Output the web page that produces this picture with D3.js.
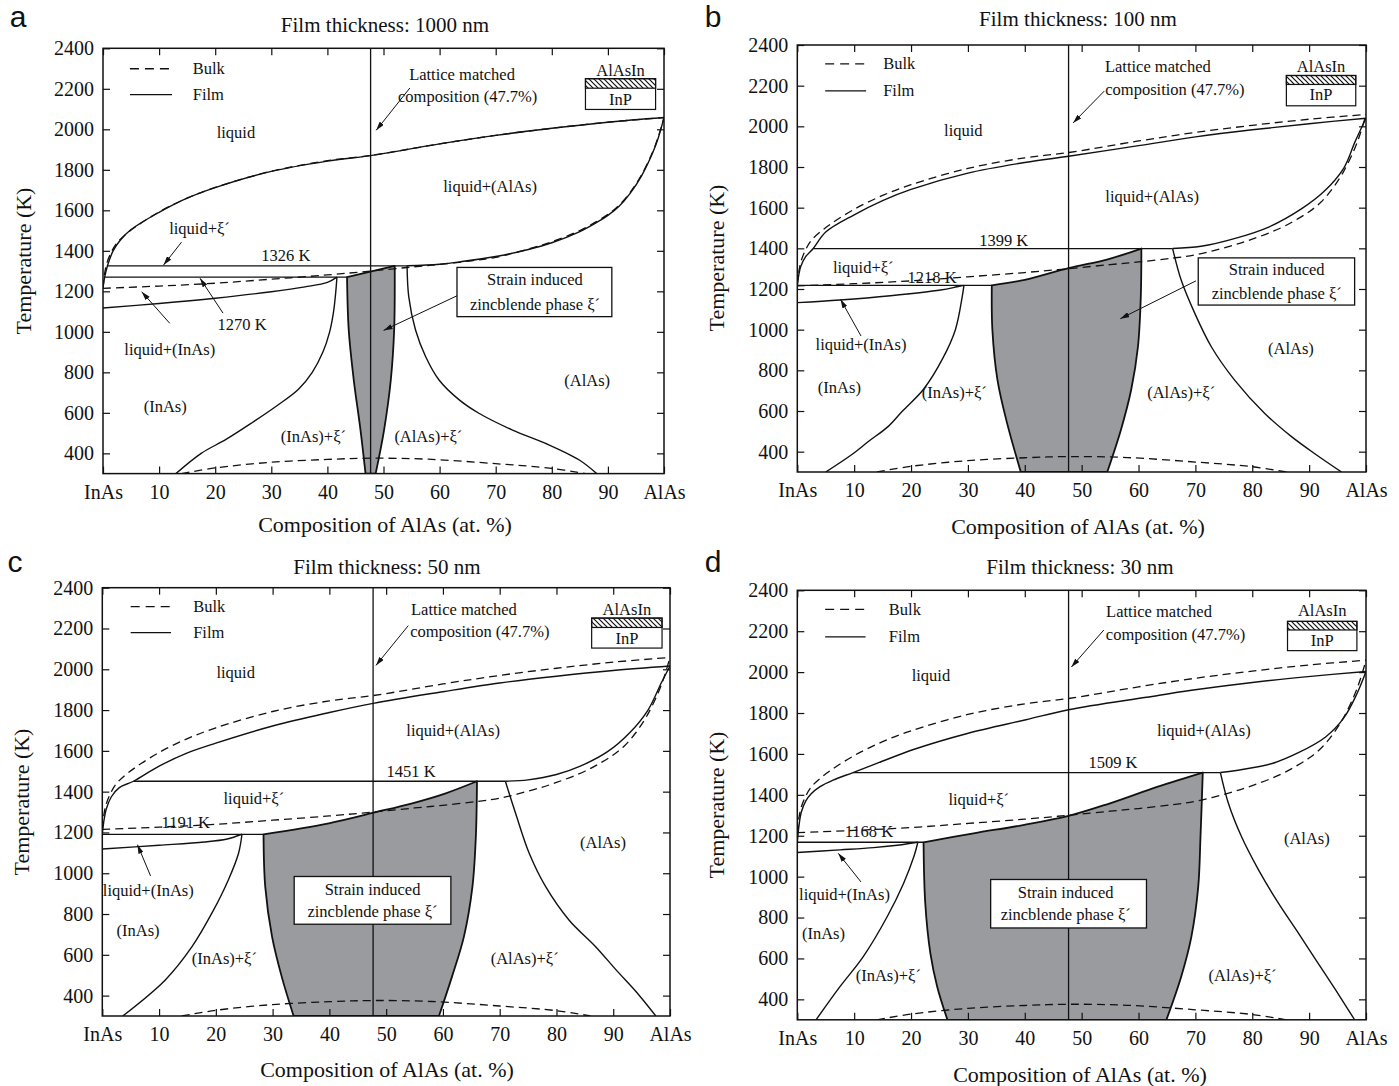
<!DOCTYPE html>
<html><head><meta charset="utf-8">
<script src="https://cdn.jsdelivr.net/npm/d3@7"></script>
<style>
body{margin:0;background:#fff;}
svg text{font-family:"Liberation Serif","Times New Roman",serif;fill:#111;}
</style></head><body><svg id="chart" width="1399" height="1086"></svg>
<script>
// ---------------- DATA ----------------
const panelLetters = ["a", "b", "c", "d"];
const panelTitles = ["Film thickness: 1000 nm", "Film thickness: 100 nm", "Film thickness: 50 nm", "Film thickness: 30 nm"];
const xTickValues = [0, 10, 20, 30, 40, 50, 60, 70, 80, 90, 100];
const xTickLabels = ["InAs", "10", "20", "30", "40", "50", "60", "70", "80", "90", "AlAs"];
const yTickValues = [400, 600, 800, 1000, 1200, 1400, 1600, 1800, 2000, 2200, 2400];
const yTickLabels = ["400", "600", "800", "1000", "1200", "1400", "1600", "1800", "2000", "2200", "2400"];
const latticeMatched = 47.7;
const peritecticT = [1326, 1399, 1451, 1509];
const peritecticSpan = [[0.8, 54.2], [2.8, 66], [5.5, 71], [9.8, 74.4]];
const eutecticT = [1270, 1218, 1191, 1168];
const eutecticSpan = [[0.3, 43.5], [0, 34.2], [0, 28.4], [0, 22.2]];

// bulk (dashed) curves, [AlAs %, T (K)]
const bulkLiquidus = [[0,1215],[0.3,1290],[0.7,1340],[1.5,1395],[2.5,1440],[4,1480],[6,1522],[10,1592],[15,1660],[20,1713],[30,1793],[40,1845],[47.7,1871],[60,1928],[70,1970],[80,2005],[90,2035],[100,2058]];
const bulkSolidus = [[0,1215],[10,1226],[20,1240],[30,1260],[40,1281],[47.7,1300],[55,1320],[60,1333],[66,1352],[70,1368],[76,1410],[80,1445],[85,1500],[88,1545],[90,1580],[92,1625],[94,1690],[96,1775],[98,1890],[99,1965],[100,2058]];
const bulkGap = [[14,300],[20,328],[30,356],[40,370],[48,376],[58,371],[70,349],[80,326],[86,300]];

// film 1000 nm
const filmLiquidusA = [[0,1215],[0.3,1270],[0.8,1326],[1.8,1400],[3,1450],[5,1505],[10,1590],[15,1660],[20,1712],[30,1792],[40,1843],[47.7,1870],[60,1928],[70,1970],[80,2005],[90,2035],[100,2058]];
const filmSolidusAlAsA = [[54.2,1326],[60,1334],[64,1347],[70,1372],[76,1408],[80,1440],[85,1495],[88,1540],[90,1575],[92,1620],[94,1685],[96,1770],[98,1885],[99,1960],[100,2058]];
const filmSolidusInAsA = [[0,1118],[10,1140],[20,1166],[30,1198],[36,1222],[40,1244],[41.7,1270]];
const solvusInAsA = [[41.7,1270],[41.5,1200],[41.1,1100],[40.4,1000],[39.2,900],[37.3,800],[34.8,715],[31,635],[26.5,550],[22,470],[17.5,400],[13,300]];
const solvusAlAsA = [[54.2,1326],[54.5,1174],[55.7,1010],[57.5,878],[59.9,762],[63.5,664],[67,598],[73,515],[78.9,449],[84.9,367],[88,300]];
const zbTopA = [[43.5,1270],[52,1326]];
const zbLeftA = [[43.5,1270],[43.8,1010],[44.7,762],[45.9,515],[46.8,300]];
const zbRightA = [[52,1326],[51.9,1010],[51.3,762],[50.1,515],[48.6,300]];

// film 100 nm
const filmLiquidusB = [[0,1218],[0.2,1260],[0.6,1310],[1.5,1360],[2.8,1399],[5,1480],[10,1565],[15,1635],[20,1690],[30,1770],[40,1822],[47.7,1853],[60,1905],[70,1948],[80,1983],[90,2013],[100,2040]];
const filmSolidusAlAsB = [[66,1399],[71,1410],[77,1449],[83,1506],[88.7,1595],[92.6,1679],[96.1,1795],[98.1,1926],[100,2040]];
const filmSolidusInAsB = [[0,1133],[7.5,1146],[16.4,1167],[25.2,1195],[28.1,1211],[29.3,1218]];
const solvusInAsB = [[29.3,1218],[29,1162],[27.8,1000],[25.6,860],[22.2,707],[18.5,600],[15.9,522],[12.5,450],[9.6,386],[5,300]];
const solvusAlAsB = [[66,1399],[67.5,1244],[69.9,1080],[72.8,916],[76.9,752],[82.2,588],[86.9,474],[91,390],[95.7,300]];
const zbTopB = [[34.2,1218],[40,1245],[47.7,1303],[54.6,1346],[60.5,1399]];
const zbLeftB = [[34.2,1218],[34.3,1000],[35.2,752],[36.9,539],[39.3,300]];
const zbRightB = [[60.5,1399],[60.4,1162],[59.9,916],[58.7,703],[56.9,507],[54.5,300]];

// film 50 nm
const filmLiquidusC = [[0,1191],[0.3,1260],[0.7,1315],[1.6,1375],[3,1420],[5.5,1451],[10,1525],[15,1590],[20,1638],[30,1722],[40,1788],[47.7,1833],[60,1890],[70,1933],[80,1966],[90,1994],[100,2016]];
const filmSolidusAlAsC = [[71,1451],[75,1458],[80,1484],[84.2,1525],[89,1596],[92.9,1689],[96.1,1799],[98.5,1935],[100,2016]];
const filmSolidusInAsC = [[0,1119],[10,1137],[18,1153],[22,1168],[24.6,1191]];
const solvusInAsC = [[24.6,1191],[24,1098],[22.2,967],[19.3,804],[15.8,640],[11.1,477],[3.6,300]];
const solvusAlAsC = [[71,1451],[72.8,1294],[75.2,1098],[78.1,934],[82.2,771],[86.9,640],[90.5,526],[94,420],[97.5,300]];
const zbTopC = [[28.4,1191],[39.9,1245],[47.8,1297],[54.6,1343],[60.5,1392],[66,1451]];
const zbLeftC = [[28.4,1191],[28.7,934],[29.9,689],[31.6,493],[33.7,300]];
const zbRightC = [[66,1451],[65.8,1179],[65.2,934],[63.7,689],[61.6,493],[59.3,300]];

// film 30 nm
const filmLiquidusD = [[0,1168],[0.3,1250],[0.7,1315],[1.5,1370],[2.4,1404],[4,1440],[6.3,1472],[9.8,1509],[14.2,1556],[20.7,1624],[29.9,1700],[40.2,1767],[47.7,1816],[61.4,1877],[69.3,1911],[81.1,1953],[89.8,1978],[100,2003]];
const filmSolidusAlAsD = [[74.4,1509],[77.2,1519],[83.5,1553],[88.2,1607],[92.9,1683],[96.1,1776],[98.4,1894],[100,2003]];
const filmSolidusInAsD = [[0,1118],[7.5,1131],[13.4,1142],[18,1155],[21.2,1168]];
const solvusInAsD = [[21.2,1168],[20.5,1098],[18.7,968],[15.8,804],[11.6,609],[7.5,462],[3.3,300]];
const solvusAlAsD = [[74.4,1509],[75.8,1359],[78.1,1196],[81.1,1033],[84.6,870],[88.2,720],[91.5,580],[94.8,440],[98,300]];
const zbTopD = [[22.2,1168],[31,1212],[39.9,1253],[47.7,1297],[54.6,1355],[63.4,1440],[71.3,1509]];
const zbLeftD = [[22.2,1168],[22.5,870],[23.4,625],[24.6,462],[26.4,300]];
const zbRightD = [[71.3,1509],[70.9,1196],[70.5,951],[69.3,707],[67.5,511],[64.9,300]];

// ---------------- LAYOUT (pixels / annotation anchors in data units) ----------------
const layouts = [
 {frame:{x0:103,x1:664,y0:48.3,y1:473.6}, letter:[18,27], title:[385,25], yTitle:[23,261], xTitle:[385,524],
  legend:{x0:4.8,x1:12.3,xt:16,Tb:2299,Tf:2171}, inset:{x0:86,x1:98.5,Th:2203,Tt:2250,Tb:2098,Ta:2290,Ti:2146},
  liquid:[23.7,1982], liqAlAs:[69,1720], lat1:[64,2273], lat2:[65,2164], latArrow:[[54.7,2204],[48.7,1995]],
  liqXi:[17.2,1511], liqXiArrow:[[14,1443],[10.8,1330]], per:[32.6,1375], eut:[24.8,1034], eutArrow:[[21.4,1092],[17.3,1264]],
  liqInAs:[11.9,913], liqInAsArrow:[[11.9,1042],[6.9,1198]],
  box:{x0:63.1,x1:90.7,T0:1318,T1:1075}, boxText:[77,1256,1137], boxArrow:[[63.1,1178],[50,1007]],
  inas:[11.1,630], inasXi:[37.5,482], alasXi:[58,482], alas:[86.3,759]},
 {frame:{x0:797.3,x1:1366,y0:45,y1:472}, letter:[713,27], title:[1078,19], yTitle:[716,258], xTitle:[1078,526],
  legend:{x0:4.9,x1:12.1,xt:15.1,Tb:2307,Tf:2174}, inset:{x0:86,x1:98.2,Th:2206,Tt:2250,Tb:2101,Ta:2295,Ti:2157},
  liquid:[29.2,1978], liqAlAs:[62.4,1657], lat1:[63.4,2295], lat2:[66.4,2180], latArrow:[[54,2174],[48.5,2017]],
  liqXi:[11.6,1307], liqXiArrow:null, per:[36.3,1437], eut:[23.7,1256], eutArrow:null,
  liqInAs:[11.2,927], liqInAsArrow:[[11.2,969],[7.6,1149]],
  box:{x0:70.5,x1:98,T0:1353,T1:1121}, boxText:[84.3,1294,1180], boxArrow:[[70.1,1240],[56.8,1054]],
  inas:[7.4,716], inasXi:[27.6,691], alasXi:[67.5,691], alas:[86.8,905]},
 {frame:{x0:102.3,x1:670,y0:587.7,y1:1016}, letter:[15,572], title:[387,567], yTitle:[21,802], xTitle:[387,1069],
  legend:{x0:5,x1:12.1,xt:16,Tb:2307,Tf:2180}, inset:{x0:86.2,x1:98.6,Th:2205,Tt:2251,Tb:2104,Ta:2293,Ti:2151},
  liquid:[23.5,1985], liqAlAs:[61.8,1698], lat1:[63.7,2293], lat2:[66.5,2183], latArrow:[[53.9,2214],[48.2,2019]],
  liqXi:[26.7,1368], liqXiArrow:null, per:[54.4,1498], eut:[14.7,1249], eutArrow:null,
  liqInAs:[8.1,914], liqInAsArrow:[[8.5,987],[6.2,1140]],
  box:{x0:33.8,x1:61.4,T0:984,T1:750}, boxText:[47.6,920,810], boxArrow:null,
  inas:[6.3,720], inasXi:[21.5,581], alasXi:[74.4,581], alas:[88.2,1153]},
 {frame:{x0:797.3,x1:1366,y0:590.3,y1:1019.8}, letter:[713,572], title:[1080,567], yTitle:[716,805], xTitle:[1080,1074],
  legend:{x0:4.9,x1:12,xt:16.1,Tb:2307,Tf:2172}, inset:{x0:86.2,x1:98.4,Th:2206,Tt:2248,Tb:2105,Ta:2299,Ti:2155},
  liquid:[23.5,1981], liqAlAs:[71.5,1716], lat1:[63.6,2295], lat2:[66.5,2184], latArrow:[[53.9,2206],[48.2,2025]],
  liqXi:[31.9,1379], liqXiArrow:null, per:[55.5,1559], eut:[12.6,1222], eutArrow:null,
  liqInAs:[8.3,915], liqInAsArrow:[[11.2,974],[7.2,1114]],
  box:{x0:34,x1:61.4,T0:986,T1:749}, boxText:[47.2,923,813], boxArrow:null,
  inas:[4.6,721], inasXi:[16,518], alasXi:[78.3,518], alas:[89.6,1185]}
];

const panelData = [
 {liq:filmLiquidusA, solAl:filmSolidusAlAsA, solIn:filmSolidusInAsA, svIn:solvusInAsA, svAl:solvusAlAsA, top:zbTopA, left:zbLeftA, right:zbRightA},
 {liq:filmLiquidusB, solAl:filmSolidusAlAsB, solIn:filmSolidusInAsB, svIn:solvusInAsB, svAl:solvusAlAsB, top:zbTopB, left:zbLeftB, right:zbRightB},
 {liq:filmLiquidusC, solAl:filmSolidusAlAsC, solIn:filmSolidusInAsC, svIn:solvusInAsC, svAl:solvusAlAsC, top:zbTopC, left:zbLeftC, right:zbRightC},
 {liq:filmLiquidusD, solAl:filmSolidusAlAsD, solIn:filmSolidusInAsD, svIn:solvusInAsD, svAl:solvusAlAsD, top:zbTopD, left:zbLeftD, right:zbRightD}
];

// ---------------- DRAW ----------------
const SERIF = '"Liberation Serif","Times New Roman",serif';
const INK = '#111';
const svg = d3.select('#chart');
const defs = svg.append('defs');
defs.append('marker').attr('id','ah').attr('viewBox','0 0 10 6').attr('refX',10).attr('refY',3)
  .attr('markerWidth',9).attr('markerHeight',5.4).attr('markerUnits','userSpaceOnUse').attr('orient','auto')
  .append('path').attr('d','M0,0L10,3L0,6Z').attr('fill',INK);
const pat = defs.append('pattern').attr('id','hatch').attr('patternUnits','userSpaceOnUse').attr('width',5).attr('height',5);
pat.append('rect').attr('width',5).attr('height',5).attr('fill','#fff');
pat.append('path').attr('d','M-1,-1L6,6M-1,4L1,6M4,-1L6,1').attr('stroke',INK).attr('stroke-width',1.2);

function drawPanel(i) {
  const L = layouts[i], P = panelData[i], f = L.frame;
  const x = d3.scaleLinear().domain([0,100]).range([f.x0,f.x1]);
  const y = d3.scaleLinear().domain([300,2400]).range([f.y1,f.y0]);
  const g = svg.append('g');
  const cid = 'clip' + i;
  defs.append('clipPath').attr('id',cid).append('rect').attr('x',f.x0).attr('y',f.y0).attr('width',f.x1-f.x0).attr('height',f.y1-f.y0);
  const plot = g.append('g').attr('clip-path',`url(#${cid})`);
  const line = d3.line().x(d=>x(d[0])).y(d=>y(d[1])).curve(d3.curveCatmullRom.alpha(0.5));

  // strain-induced zincblende region
  const dG = line(P.top) + line(P.right).replace(/^M/,'L') + line(P.left.slice().reverse()).replace(/^M/,'L') + 'Z';
  plot.append('path').attr('d',dG).attr('fill','#9a9b9e').attr('stroke',INK).attr('stroke-width',1.8).attr('stroke-linejoin','round');

  // lattice matched composition
  plot.append('line').attr('x1',x(latticeMatched)).attr('x2',x(latticeMatched)).attr('y1',y(2400)).attr('y2',y(300))
    .attr('stroke',INK).attr('stroke-width',1.3);

  // bulk dashed
  [bulkLiquidus, bulkSolidus, bulkGap].forEach(c => plot.append('path').attr('d',line(c)).attr('fill','none')
    .attr('stroke',INK).attr('stroke-width',1.3).attr('stroke-dasharray','8,5'));
  // film solid
  [P.liq, P.solAl, P.solIn, P.svIn, P.svAl].forEach(c => plot.append('path').attr('d',line(c)).attr('fill','none')
    .attr('stroke',INK).attr('stroke-width',1.4));
  // invariant lines
  plot.append('line').attr('x1',x(peritecticSpan[i][0])).attr('x2',x(peritecticSpan[i][1]))
    .attr('y1',y(peritecticT[i])).attr('y2',y(peritecticT[i])).attr('stroke',INK).attr('stroke-width',1.3);
  plot.append('line').attr('x1',x(eutecticSpan[i][0])).attr('x2',x(eutecticSpan[i][1]))
    .attr('y1',y(eutecticT[i])).attr('y2',y(eutecticT[i])).attr('stroke',INK).attr('stroke-width',1.3);

  // axes (inward ticks on four sides)
  const styleAxis = s => { s.select('.domain').remove(); s.attr('font-family',null).attr('font-size',null);
    s.selectAll('line').attr('stroke',INK).attr('stroke-width',1.2);
    s.selectAll('text').style('font-family',SERIF).style('font-size','20px').attr('fill',INK); };
  g.append('g').attr('transform',`translate(${f.x0},0)`).call(d3.axisLeft(y).tickValues(yTickValues)
    .tickFormat((d,k)=>yTickLabels[k]).tickSize(-7).tickPadding(9)).call(styleAxis);
  g.append('g').attr('transform',`translate(${f.x1},0)`).call(d3.axisRight(y).tickValues(yTickValues)
    .tickFormat('').tickSize(-7)).call(styleAxis);
  g.append('g').attr('transform',`translate(0,${f.y1})`).call(d3.axisBottom(x).tickValues(xTickValues)
    .tickFormat((d,k)=>xTickLabels[k]).tickSize(-7).tickPadding(11)).call(styleAxis);
  g.append('g').attr('transform',`translate(0,${f.y0})`).call(d3.axisTop(x).tickValues(xTickValues)
    .tickFormat('').tickSize(-7)).call(styleAxis);
  g.append('rect').attr('x',f.x0).attr('y',f.y0).attr('width',f.x1-f.x0).attr('height',f.y1-f.y0)
    .attr('fill','none').attr('stroke',INK).attr('stroke-width',1.5);

  // texts
  const txt = (p, s, size=16.5, anchor='middle') => g.append('text').attr('x',x(p[0])).attr('y',y(p[1]))
    .attr('text-anchor',anchor).attr('dominant-baseline','central').style('font-family',SERIF).style('font-size',size+'px').text(s);
  const arrow = a => { if (!a) return; g.append('line').attr('x1',x(a[0][0])).attr('y1',y(a[0][1]))
    .attr('x2',x(a[1][0])).attr('y2',y(a[1][1])).attr('stroke',INK).attr('stroke-width',1).attr('marker-end','url(#ah)'); };

  svg.append('text').attr('x',L.letter[0]).attr('y',L.letter[1]).attr('text-anchor','middle')
    .style('font-size','30px').style('font-family','"Liberation Sans",Arial,sans-serif').text(panelLetters[i]);
  svg.append('text').attr('x',L.title[0]).attr('y',L.title[1]).attr('text-anchor','middle').attr('dominant-baseline','central')
    .style('font-family',SERIF).style('font-size','21px').text(panelTitles[i]);
  svg.append('text').attr('x',L.xTitle[0]).attr('y',L.xTitle[1]).attr('text-anchor','middle').attr('dominant-baseline','central')
    .style('font-family',SERIF).style('font-size','22px').text('Composition of AlAs (at. %)');
  svg.append('text').attr('transform',`translate(${L.yTitle[0]},${L.yTitle[1]}) rotate(-90)`).attr('text-anchor','middle')
    .attr('dominant-baseline','central').style('font-family',SERIF).style('font-size','22px').text('Temperature (K)');

  // legend
  const lg = L.legend;
  g.append('line').attr('x1',x(lg.x0)).attr('x2',x(lg.x1)).attr('y1',y(lg.Tb)).attr('y2',y(lg.Tb))
    .attr('stroke',INK).attr('stroke-width',1.3).attr('stroke-dasharray','9,6');
  g.append('line').attr('x1',x(lg.x0)).attr('x2',x(lg.x1)).attr('y1',y(lg.Tf)).attr('y2',y(lg.Tf))
    .attr('stroke',INK).attr('stroke-width',1.3);
  txt([lg.xt, lg.Tb], 'Bulk', 16.5, 'start');
  txt([lg.xt, lg.Tf], 'Film', 16.5, 'start');

  // inset
  const ins = L.inset;
  g.append('rect').attr('x',x(ins.x0)).attr('y',y(ins.Tt)).attr('width',x(ins.x1)-x(ins.x0)).attr('height',y(ins.Th)-y(ins.Tt))
    .attr('fill','url(#hatch)').attr('stroke',INK).attr('stroke-width',1.2);
  g.append('rect').attr('x',x(ins.x0)).attr('y',y(ins.Tt)).attr('width',x(ins.x1)-x(ins.x0)).attr('height',y(ins.Tb)-y(ins.Tt))
    .attr('fill','none').attr('stroke',INK).attr('stroke-width',1.2);
  txt([(ins.x0+ins.x1)/2, ins.Ta], 'AlAsIn');
  txt([(ins.x0+ins.x1)/2, ins.Ti], 'InP');

  txt(L.liquid, 'liquid');
  txt(L.liqAlAs, 'liquid+(AlAs)');
  txt(L.lat1, 'Lattice matched');
  txt(L.lat2, 'composition (47.7%)');
  arrow(L.latArrow);
  txt(L.liqXi, 'liquid+ξ´');
  arrow(L.liqXiArrow);
  txt(L.per, peritecticT[i] + ' K');
  txt(L.eut, eutecticT[i] + ' K');
  arrow(L.eutArrow);
  txt(L.liqInAs, 'liquid+(InAs)');
  arrow(L.liqInAsArrow);
  txt(L.inas, '(InAs)');
  txt(L.inasXi, '(InAs)+ξ´');
  txt(L.alasXi, '(AlAs)+ξ´');
  txt(L.alas, '(AlAs)');

  // strain-induced phase label box
  const b = L.box;
  g.append('rect').attr('x',x(b.x0)).attr('y',y(b.T0)).attr('width',x(b.x1)-x(b.x0)).attr('height',y(b.T1)-y(b.T0))
    .attr('fill','#fff').attr('stroke',INK).attr('stroke-width',1.3);
  txt([L.boxText[0], L.boxText[1]], 'Strain induced');
  txt([L.boxText[0], L.boxText[2]], 'zincblende phase ξ´');
  arrow(L.boxArrow);
}
[0,1,2,3].forEach(drawPanel);
</script></body></html>
